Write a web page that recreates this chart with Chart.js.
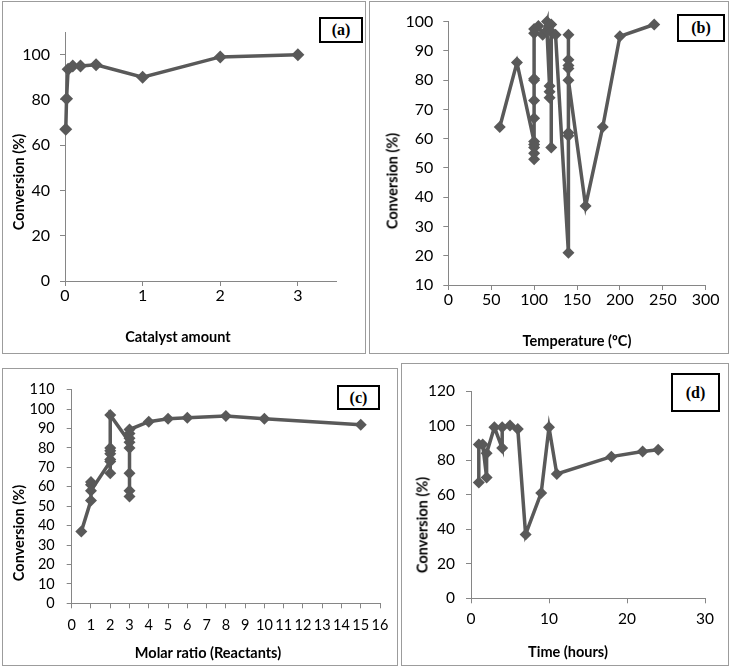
<!DOCTYPE html>
<html>
<head>
<meta charset="utf-8">
<script src="https://cdn.jsdelivr.net/npm/chart.js@4.4.1/dist/chart.umd.min.js"></script>
<style>
  body { margin: 0; background: #fff; width: 731px; height: 669px; position: relative; overflow: hidden; font-family: Lato, sans-serif; }
  .panel { position: absolute; box-sizing: border-box; border: 1px solid #9c9c9c; }
  .panel canvas { position: absolute; left: 0; top: 0; }
  .tag { position: absolute; box-sizing: border-box; border: 2px solid #000; background: #fff;
         font: bold 16px "Liberation Serif", "Times New Roman", serif; color: #000;
         display: flex; align-items: center; justify-content: center; }
  .title { position: absolute; font: bold 14.5px Lato, sans-serif; color: #000; white-space: nowrap; transform: translate(-50%, -50%); }
  .title.rot { transform: translate(-50%, -50%) rotate(-90deg); }
</style>
</head>
<body>

<div class="panel" style="left:2px;top:1px;width:364px;height:353px;"><canvas id="chartA" width="362" height="351"></canvas></div>
<div class="panel" style="left:369px;top:1px;width:360px;height:353px;"><canvas id="chartB" width="358" height="351"></canvas></div>
<div class="panel" style="left:2px;top:368px;width:396px;height:298px;"><canvas id="chartC" width="394" height="296"></canvas></div>
<div class="panel" style="left:401px;top:363px;width:328px;height:303px;"><canvas id="chartD" width="326" height="301"></canvas></div>

<div class="tag" style="left:319px;top:17px;width:44px;height:26px;">(a)</div>
<div class="tag" style="left:677px;top:14px;width:48px;height:28px;">(b)</div>
<div class="tag" style="left:337px;top:385px;width:43px;height:25px;">(c)</div>
<div class="tag" style="left:671px;top:373px;width:49px;height:39px;">(d)</div>

<div class="title rot" style="left:18px;top:182px;">Conversion (%)</div>
<div class="title" style="left:178px;top:336px;">Catalyst amount</div>
<div class="title rot" style="left:392px;top:181px;">Conversion (%)</div>
<div class="title" style="left:577px;top:340px;">Temperature (&ordm;C)</div>
<div class="title rot" style="left:18px;top:533px;">Conversion (%)</div>
<div class="title" style="left:208px;top:652px;">Molar ratio (Reactants)</div>
<div class="title rot" style="left:422px;top:525px;">Conversion (%)</div>
<div class="title" style="left:568px;top:651px;">Time (hours)</div>

<script>
// (a) catalyst amount
const catalystAmount = [0.01, 0.02, 0.04, 0.1, 0.2, 0.4, 1, 2, 3];
const conversionA = [67, 80.5, 93.5, 95, 95, 95.5, 90, 99, 100];

// (b) temperature
const temperature = [60, 80, 100, 100, 100, 100, 100, 100, 100, 100, 100, 100, 100,
                     105, 110, 115, 115, 118, 118, 118, 120, 120, 120, 125,
                     140, 140, 140, 140, 140, 140, 140, 140, 160, 180, 200, 240];
const conversionB = [64, 86, 59, 58, 57, 55, 53, 67, 73, 80, 80.5, 96, 97.5,
                     98.5, 95.5, 100, 97, 78, 76, 74, 99, 57, 96.5, 95.5,
                     21, 61, 62, 95.5, 87, 85, 84, 80, 37, 64, 95, 99];

// (c) molar ratio
const molarRatio = [0.5, 1, 1, 1, 1, 2, 2, 2, 2, 2, 2, 2, 3, 3, 3, 3, 3, 3, 3, 3, 4, 5, 6, 8, 10, 15];
const conversionC = [37, 53, 62.5, 61, 58, 73, 67, 74, 77, 78.5, 80, 97, 83, 55, 58, 67, 80, 85, 87.5, 89.5, 93.5, 95, 95.5, 96.5, 95, 92];

// (d) time
const timeHours = [1, 1, 1.5, 2, 2, 3, 4, 4, 5, 6, 7, 9, 10, 11, 18, 22, 24];
const conversionD = [67, 89, 89, 70, 84, 99, 87, 99, 100, 98, 37, 61, 99, 72, 82, 85, 86];

const lineColor = '#595959';
const axisColor = '#868686';

function axis(a, which) {
    return {
        type: 'linear',
        position: which === 'x' ? 'bottom' : 'left',
        min: a.min,
        max: a.max,
        grid: { drawOnChartArea: false, drawTicks: true, tickLength: 5, color: axisColor },
        border: { color: axisColor, width: 1 },
        ticks: {
            stepSize: a.step,
            includeBounds: false,
            autoSkip: false,
            maxRotation: 0,
            padding: a.pad,
            color: '#000',
            font: { family: 'Lato', size: a.font }
        },
        afterFit: function(scale) {
            if (which === 'x') scale.height = a.size;
            else scale.width = a.size;
        }
    };
}

function makeChart(id, xs, ys, cfg) {
    const points = xs.map((x, i) => ({ x: x, y: ys[i] }));
    return new Chart(document.getElementById(id), {
        type: 'scatter',
        data: {
            datasets: [{
                data: points,
                showLine: true,
                borderColor: lineColor,
                backgroundColor: lineColor,
                borderWidth: 3.5,
                pointStyle: 'rectRot',
                pointRadius: cfg.radius,
                pointBorderWidth: 0,
                clip: false
            }]
        },
        options: {
            responsive: false,
            animation: false,
            events: [],
            layout: { padding: cfg.padding },
            plugins: { legend: { display: false }, tooltip: { enabled: false } },
            scales: { x: axis(cfg.x, 'x'), y: axis(cfg.y, 'y') }
        }
    });
}

makeChart('chartA', catalystAmount, conversionA, {
    radius: 6.5,
    padding: { left: 0, top: 30, right: 28.3, bottom: 0 },
    x: { min: 0, max: 3.5, step: 1, pad: 0, font: 16, size: 72 },
    y: { min: 0, max: 110, step: 20, pad: 10, font: 16, size: 62 }
});

makeChart('chartB', temperature, conversionB, {
    radius: 6,
    padding: { left: 0, top: 8.7, right: 22.3, bottom: 0 },
    x: { min: 0, max: 300, step: 50, pad: 0, font: 16, size: 68 },
    y: { min: 10, max: 100, step: 10, pad: 10, font: 16, size: 78.3 }
});

makeChart('chartC', molarRatio, conversionC, {
    radius: 6,
    padding: { left: 0, top: 14.3, right: 17, bottom: 0 },
    x: { min: 0, max: 16, step: 1, pad: 8, font: 14.5, size: 61.7 },
    y: { min: 0, max: 110, step: 10, pad: 12, font: 14.5, size: 68.7 }
});

makeChart('chartD', timeHours, conversionD, {
    radius: 6,
    padding: { left: 0, top: 27, right: 23, bottom: 0 },
    x: { min: 0, max: 30, step: 10, pad: 6, font: 15.5, size: 66.7 },
    y: { min: 0, max: 120, step: 20, pad: 11, font: 15.5, size: 69 }
});
</script>
</body>
</html>
